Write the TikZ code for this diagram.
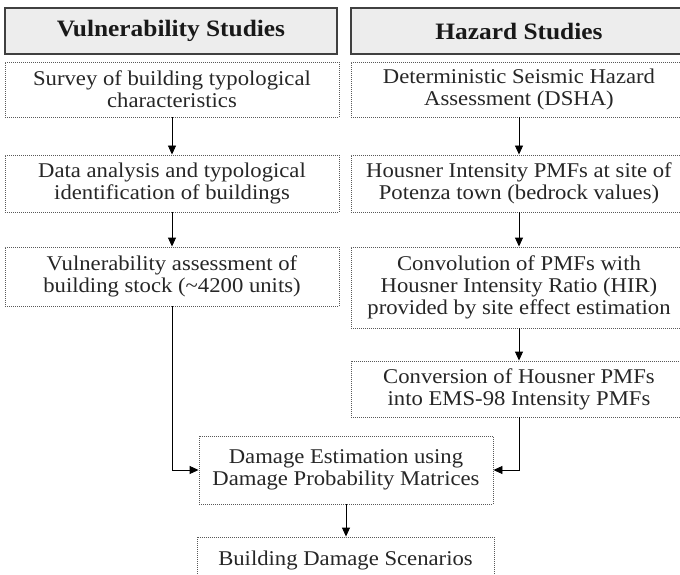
\documentclass[tikz,border=0pt]{standalone}
\usepackage{fontspec}
\setmainfont[FakeStretch=1.08]{Liberation Serif}
\usepackage{tikz}
\usetikzlibrary{shapes,arrows,positioning,calc,arrows.meta}

\begin{document}
\begin{tikzpicture}[x=1pt,y=-1pt,
    titlebox/.style={draw=black!75, line width=1.3pt, fill=black!7, inner sep=0pt,
        font=\fontsize{23.5}{26}\selectfont\bfseries, text=black!90},
    stepbox/.style={draw=black!65, line width=0.9pt, dash pattern=on 1pt off 1pt,
        inner sep=0pt, align=center, font=\fontsize{21}{22}\selectfont, text=black!85},
    flow/.style={-{Triangle[length=9pt,width=8pt]}, line width=0.9pt}]
    \useasboundingbox (0,0) rectangle (680,575);

    % Titles
    \node[titlebox, minimum width=332, minimum height=46] (vul) at (171,31) {Vulnerability Studies};
    \node[titlebox, minimum width=336, minimum height=46] (haz) at (519,31) {Hazard Studies};

    % Vulnerability column
    \node[stepbox, minimum width=334, minimum height=55] (v1) at (172,89.5)
        {Survey of building typological\\characteristics};
    \node[stepbox, minimum width=334, minimum height=57] (v2) at (172,183.5)
        {Data analysis and typological\\identification of buildings};
    \node[stepbox, minimum width=334, minimum height=59] (v3) at (172,276.5)
        {Vulnerability assessment of\\building stock (\textasciitilde4200 units)};

    % Hazard column
    \node[stepbox, minimum width=336, minimum height=55] (h1) at (519,89.5)
        {Deterministic Seismic Hazard\\Assessment (DSHA)};
    \node[stepbox, minimum width=336, minimum height=57] (h2) at (519,183.5)
        {Housner Intensity PMFs at site of\\Potenza town (bedrock values)};
    \node[stepbox, minimum width=336, minimum height=81] (h3) at (519,287.5)
        {Convolution of PMFs with\\Housner Intensity Ratio (HIR)\\provided by site effect estimation};
    \node[stepbox, minimum width=336, minimum height=56] (h4) at (519,389)
        {Conversion of Housner PMFs\\into EMS-98 Intensity PMFs};

    % Damage
    \node[stepbox, minimum width=294, minimum height=68] (dmg) at (346,470)
        {Damage Estimation using\\Damage Probability Matrices};
    \node[stepbox, minimum width=297, minimum height=46] (bds) at (345.5,560)
        {Building Damage Scenarios};

    % Arrows
    \draw[flow] (v1) -- (v2);
    \draw[flow] (v2) -- (v3);
    \draw[flow] (h1) -- (h2);
    \draw[flow] (h2) -- (h3);
    \draw[flow] (h3) -- (h4);
    \draw[flow] (v3.south) |- (dmg.west);
    \draw[flow] (h4.south) |- (dmg.east);
    \draw[flow] (dmg) -- (dmg |- bds.north);
\end{tikzpicture}
\end{document}
